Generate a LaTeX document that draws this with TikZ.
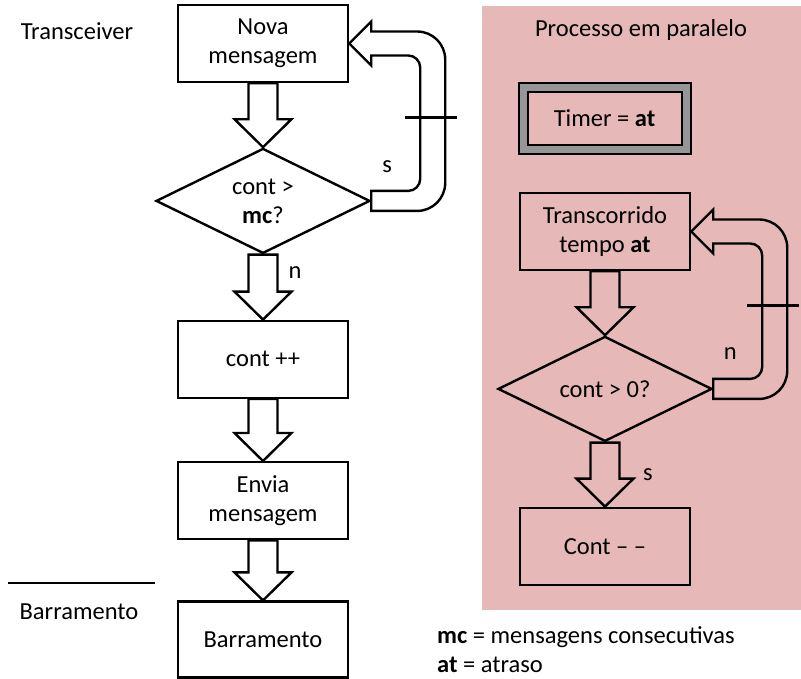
\documentclass[tikz,border=0pt]{standalone}
\usepackage{fontspec}
\setmainfont{Carlito}
\usetikzlibrary{positioning,calc,shapes.geometric}
\definecolor{pastelred}{RGB}{230,185,184}
\definecolor{ringgray}{RGB}{150,150,150}
\tikzstyle{element} = [rectangle, draw=black, line width=2.4pt, align=center, minimum width=170pt, minimum height=77pt, inner sep=2pt]
\tikzstyle{decision} = [diamond, aspect=2, draw=black, line width=2.4pt, align=center, minimum width=214pt, minimum height=105pt, inner sep=0pt]
\tikzstyle{fat} = [draw=black, line width=2.4pt, line join=miter]
\tikzstyle{tag} = [inner sep=0pt]
% fat arrow going down from one node to the next
\newcommand{\fatdown}[2]{%
  \draw[fat] ($(#1.south)+(-14.5,0)$) -- ($(#2.north)+(-14.5,-28)$) -- ($(#2.north)+(-28.5,-28)$) -- (#2.north)
    -- ($(#2.north)+(28.5,-28)$) -- ($(#2.north)+(14.5,-28)$) -- ($(#1.south)+(14.5,0)$) -- cycle;}
% fat arrow looping back from a decision to a box above it
\newcommand{\fatloop}[2]{%
  \draw[fat] ($(#1.east)+(0,-10)$) [rounded corners=12pt] -- ($(#1.east)+(49,-10)$) -- ($(#1.east |- #2.east)+(49,12)$)
    [sharp corners] -- ($(#2.east)+(22,12)$) -- ($(#2.east)+(22,22)$) -- (#2.east) -- ($(#2.east)+(22,-22)$) -- ($(#2.east)+(22,-12)$)
    [rounded corners=28pt] -- ($(#1.east |- #2.east)+(74,-12)$) -- ($(#1.east)+(74,10)$)
    [sharp corners] -- ($(#1.east)+(0,10)$) -- cycle;
  \coordinate (#1_mid) at ($(#1.east)!.53!(#1.east |- #2.east)$);
  \draw[fat] ([xshift=34pt]#1_mid) -- ([xshift=86pt]#1_mid);}

\begin{document}
\begin{tikzpicture}[x=1pt, y=-1pt, font=\fontsize{24.5}{29}\selectfont]
    \useasboundingbox (0,0) rectangle (801,678);
    % Parallel process panel ------------------------------------------------------------------
    \fill[pastelred] (482,6) rectangle (801,610);
    \node[tag] (panel_title) at (641,30) {Processo em paralelo};
    % Transceiver -----------------------------------------------------------------------------
    \node[element](nova) at (263,43.5){Nova\\mensagem};
    \node[decision, below=64pt of nova](check_mc){cont >\\\textbf{mc}?};
    \node[element, below=65pt of check_mc](inc){cont ++};
    \node[element, below=62pt of inc](send){Envia\\mensagem};
    \node[element, below=60pt of send, minimum height=76pt](bus){Barramento};
    % Timer -----------------------------------------------------------------------------------
    \node[element, line width=2pt, double=ringgray, double distance=7pt, minimum width=163pt, minimum height=62pt](timer) at (604.5,118){Timer = \textbf{at}};
    \node[element](elapsed) at (605,231.5){Transcorrido\\tempo \textbf{at}};
    \node[decision, below=64pt of elapsed](check_cont){cont > 0?};
    \node[element, below=64pt of check_cont](dec_cont){Cont -- --};
    % Labels ----------------------------------------------------------------------------------
    \node[tag](lbl_transceiver) at (77,31){Transceiver};
    \node[tag](lbl_bus) at (79,612){Barramento};
    \draw[line width=1.2pt] (8,583) -- (155,583);
    \node[tag, anchor=west, align=left](legend) at (437,650){\textbf{mc} = mensagens consecutivas\\\textbf{at} = atraso};
    % Arrows ----------------------------------------------------------------------------------
    \fatdown{nova}{check_mc}
    \fatdown{check_mc}{inc}
    \fatdown{inc}{send}
    \fatdown{send}{bus}
    \fatloop{check_mc}{nova}
    \node[tag] at ($(check_mc.east)+(16,-34)$){s};
    \node[tag] at ($(check_mc.south)+(32,18)$){n};
    \fatdown{elapsed}{check_cont}
    \fatdown{check_cont}{dec_cont}
    \fatloop{check_cont}{elapsed}
    \node[tag] at ($(check_cont.east)+(17,-35)$){n};
    \node[tag] at ($(check_cont.south)+(43,32)$){s};
\end{tikzpicture}
\end{document}
